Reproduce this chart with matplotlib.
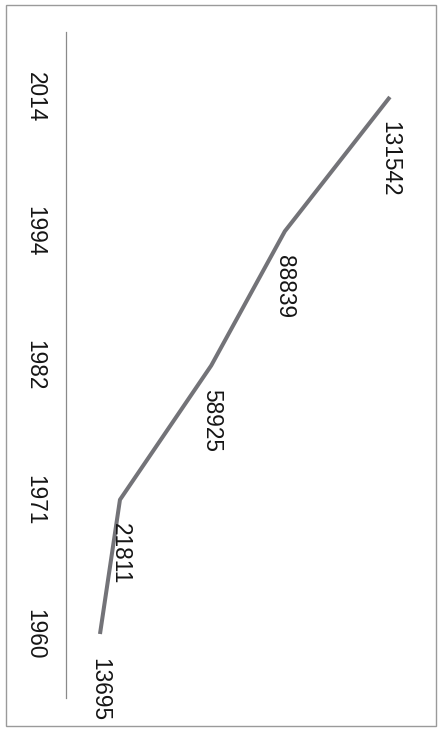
import matplotlib
matplotlib.use("Agg")
import matplotlib.pyplot as plt
from matplotlib.patches import Rectangle
from matplotlib.transforms import blended_transform_factory

years = ["1960", "1971", "1982", "1994", "2014"]
values = [13695, 21811, 58925, 88839, 131542]

W, H = 444, 729
fig = plt.figure(figsize=(W / 100, H / 100), dpi=100)
ax = fig.add_axes([0, 0, 1, 1])
ax.set_axis_off()

# value axis runs left->right (rotated chart), categories bottom->top
px_per_unit = 0.00246
x0_px = 66.3
xmin = -x0_px / px_per_unit
xmax = xmin + W / px_per_unit
cat_step = 134.25
y0_px = 95.0
ymin = -y0_px / cat_step
ymax = ymin + H / cat_step
ax.set_xlim(xmin, xmax)
ax.set_ylim(ymin, ymax)

idx = list(range(len(years)))
ax.plot(values, idx, color="#737378", linewidth=2.9, solid_capstyle="butt", zorder=3)

font = "Liberation Sans"
for v, i in zip(values, idx):
    ax.annotate(str(v), xy=(v, i), xytext=(0, -17), textcoords="offset points",
                rotation=-90, ha="center", va="top", fontsize=16.3,
                family=font, color="#151515")

# category axis line (at value 0)
ax.plot([0, 0], [ymin + (H - 698) / cat_step, ymin + (H - 32) / cat_step],
        color="#8a8a8a", linewidth=0.9, zorder=2)

tr = blended_transform_factory(fig.transFigure, ax.transData)
for y, i in zip(years, idx):
    ax.text(35 / W, i, y, transform=tr, rotation=-90, ha="center", va="center",
            fontsize=16.3, family=font, color="#151515")

fig.patches.append(Rectangle((6 / W, 3 / H), (436 - 6) / W, (724 - 3) / H,
                             transform=fig.transFigure, fill=False,
                             edgecolor="#9a9a9a", linewidth=1.0))

fig.savefig("out.png", dpi=100)
